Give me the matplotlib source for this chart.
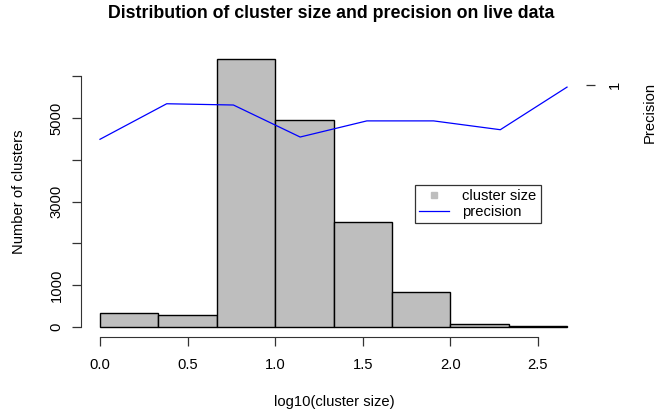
import matplotlib
matplotlib.use("Agg")
import matplotlib.pyplot as plt
import numpy as np
from matplotlib.lines import Line2D

plt.rcParams['font.family'] = ['Liberation Sans', 'DejaVu Sans']

# Histogram data (log10 cluster size bins)
bin_edges = [0.0, 1/3, 2/3, 1.0, 4/3, 5/3, 2.0, 7/3, 8/3]
counts = [336, 288, 6416, 4960, 2512, 825, 57, 12]

# Precision per bin (plotted by bin index)
prec_idx = [1, 2, 3, 4, 5, 6, 7, 8]
precision = [0.786, 0.927, 0.922, 0.795, 0.859, 0.859, 0.824, 0.993]

x_ticks = [0.0, 0.5, 1.0, 1.5, 2.0, 2.5]
x_ticklabels = ["0.0", "0.5", "1.0", "1.5", "2.0", "2.5"]
y_ticks = [0, 1000, 2000, 3000, 4000, 5000, 6000]
y_ticklabels = ["0", "1000", "", "3000", "", "5000", ""]

FS = 10.6
W, H = 668, 413
fig = plt.figure(figsize=(W/100, H/100), dpi=100)
L, R, T, B = 81.3, 585.7, 48.3, 337.4
rect = [L/W, 1 - B/H, (R-L)/W, (B-T)/H]
ax = fig.add_axes(rect)

lefts = bin_edges[:-1]
widths = np.diff(bin_edges)
ax.bar(lefts, counts, width=widths, align='edge', color='#BEBEBE',
       edgecolor='black', linewidth=1.0)
xmin, xmax = bin_edges[0], bin_edges[-1]
ext = 0.04 * (xmax - xmin)
ax.set_xlim(xmin - ext, xmax + ext)
ymax = max(counts)
ax.set_ylim(-0.04*ymax, ymax*1.04)

for s in ['top', 'right']:
    ax.spines[s].set_visible(False)
ax.spines['left'].set_bounds(0, 6000)
ax.spines['bottom'].set_bounds(0, 2.5)
ax.spines['left'].set_color('#333333')
ax.spines['bottom'].set_color('#333333')
ax.set_xticks(x_ticks)
ax.set_xticklabels(x_ticklabels)
ax.set_yticks(y_ticks)
ax.set_yticklabels(y_ticklabels, rotation=90, va='center')
ax.tick_params(axis='both', length=6.7, width=0.9, color='#333333',
               labelsize=FS, direction='out')
ax.tick_params(axis='x', pad=8)
ax.tick_params(axis='y', pad=6)
ax.patch.set_alpha(0)

# Overlay for precision
ax2 = fig.add_axes(rect)
ax2.patch.set_alpha(0)
ax2.plot(prec_idx, precision, color='#0000FF', linewidth=0.9)
ext2 = 0.04 * (prec_idx[-1] - prec_idx[0])
ax2.set_xlim(prec_idx[0] - ext2, prec_idx[-1] + ext2)
ax2.set_ylim(0, 1.147)
for s in ['top', 'left', 'bottom', 'right']:
    ax2.spines[s].set_visible(False)
ax2.set_xticks([])
ax2.yaxis.tick_right()
ax2.set_yticks([1])
ax2.set_yticklabels(["1"], rotation=90, va='center')
ax2.tick_params(axis='y', length=6.7, width=0.9, color='#333333',
                labelsize=FS, pad=9)

fig.text(331/W, 1 - 14/H, "Distribution of cluster size and precision on live data",
         ha='center', va='center', fontsize=12.8, fontweight='bold')
fig.text(334/W, 1 - 402/H, "log10(cluster size)", ha='center', va='center', fontsize=FS)
fig.text(19/W, 1 - 192/H, "Number of clusters", ha='center', va='center',
         rotation=90, fontsize=FS)
fig.text(650/W, 1 - 112/H, "Precision", ha='center', va='center',
         rotation=90, fontsize=FS)

handles = [Line2D([], [], marker='s', color='#BEBEBE', linestyle='None', markersize=5),
           Line2D([], [], color='#0000FF', linewidth=0.9)]
leg = fig.legend(handles, ["cluster size", "precision"],
                 loc='upper left', bbox_to_anchor=(415/W, 1 - 185/H),
                 frameon=True, fancybox=False, fontsize=FS,
                 handlelength=2.0, handletextpad=0.9, borderpad=0.3,
                 labelspacing=0.1, borderaxespad=0)
leg.get_frame().set_edgecolor('black')
leg.get_frame().set_linewidth(0.9)

fig.savefig("out.png", dpi=100)
